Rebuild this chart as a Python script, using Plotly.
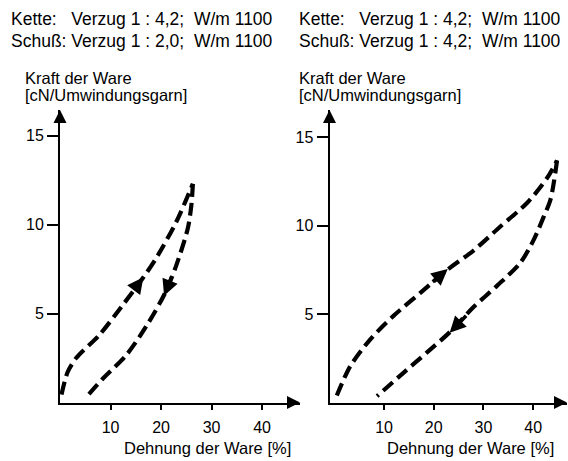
import plotly.graph_objects as go

W, H = 568, 461
FONT = "Liberation Sans, Arial, sans-serif"

# Left panel: Kette 1:4,2 / Schuß 1:2,0
left_load_x = [0.3, 1.5, 3.2, 7.8, 12.2, 16.4, 19.0, 23.0, 26.3]
left_load_y = [0.45, 1.7, 2.5, 3.8, 5.4, 7.0, 8.1, 10.15, 12.3]
left_unload_x = [26.3, 26.0, 25.3, 23.0, 20.7, 17.1, 13.1, 8.5, 5.2]
left_unload_y = [12.3, 11.1, 9.8, 7.7, 6.1, 4.3, 2.66, 1.35, 0.3]

# Right panel: Kette 1:4,2 / Schuß 1:4,2
right_load_x = [0.5, 3.2, 7.2, 11.9, 17.3, 22.7, 28.0, 33.4, 38.8, 42.8, 44.8]
right_load_y = [0.4, 2.05, 3.56, 4.9, 6.2, 7.5, 8.6, 9.96, 11.3, 12.7, 13.7]
right_unload_x = [44.8, 43.5, 42.1, 40.1, 37.4, 32.7, 28.0, 23.3, 18.7, 13.9, 8.6]
right_unload_y = [13.7, 11.5, 10.5, 9.2, 7.9, 6.6, 5.4, 4.0, 2.85, 1.68, 0.36]

# direction arrows on the curves: (tail_x, tail_y, tip_x, tip_y)
left_arrows = [(14.4, 6.25, 16.5, 7.05), (22.2, 7.15, 20.6, 6.0)]
right_arrows = [(19.5, 6.75, 22.8, 7.55), (26.8, 5.0, 23.2, 3.95)]

x_ticks = [10, 20, 30, 40]
y_ticks = [5, 10, 15]

header_left = ["Kette:   Verzug 1 : 4,2;  W/m 1100", "Schuß: Verzug 1 : 2,0;  W/m 1100"]
header_right = ["Kette:   Verzug 1 : 4,2;  W/m 1100", "Schuß: Verzug 1 : 4,2;  W/m 1100"]
y_title = ["Kraft der Ware", "[cN/Umwindungsgarn]"]
x_title = "Dehnung der Ware [%]"

# panel geometry in pixels
L_x0, L_x1 = 60, 300
R_x0, R_x1 = 329.5, 567
Y_top, Y_bot = 110, 402.5

left_xrange = [0, 47.5]
left_yrange = [0, 16.45]
right_xrange = [-0.97, 46.8]
right_yrange = [0, 16.55]


def px(x):
    return x / W


def py(y):
    return 1 - y / H


fig = go.Figure()

line_style = dict(color="black", width=4.2, dash="13px,6px", shape="spline", smoothing=0.8)

for xs, ys, xa, ya in [
    (left_load_x, left_load_y, "x", "y"),
    (left_unload_x, left_unload_y, "x", "y"),
    (right_load_x, right_load_y, "x2", "y2"),
    (right_unload_x, right_unload_y, "x2", "y2"),
]:
    fig.add_trace(go.Scatter(x=xs, y=ys, mode="lines", line=line_style,
                             xaxis=xa, yaxis=ya, showlegend=False, hoverinfo="skip"))

axis_common = dict(showgrid=False, zeroline=False, showline=True, linecolor="black",
                   linewidth=2, ticks="outside", tickcolor="black", tickwidth=1.5,
                   tickfont=dict(family=FONT, size=16, color="black"), fixedrange=True)

fig.update_layout(
    width=W, height=H,
    margin=dict(l=0, r=0, t=0, b=0),
    paper_bgcolor="white", plot_bgcolor="white",
    xaxis=dict(domain=[px(L_x0), px(L_x1)], range=left_xrange, anchor="y",
               tickvals=x_ticks, ticklen=5, ticklabelstandoff=4, **axis_common),
    yaxis=dict(domain=[py(Y_bot), py(Y_top)], range=left_yrange, anchor="x",
               tickvals=y_ticks, ticklen=11, ticklabelstandoff=0, **axis_common),
    xaxis2=dict(domain=[px(R_x0), px(R_x1)], range=right_xrange, anchor="y2",
                tickvals=x_ticks, ticklen=5, ticklabelstandoff=4, **axis_common),
    yaxis2=dict(domain=[py(Y_bot), py(Y_top)], range=right_yrange, anchor="x2",
                tickvals=y_ticks, ticklen=11, ticklabelstandoff=0, **axis_common),
)

annotations = []
text_font = dict(family=FONT, size=16.5, color="black")
head_font = dict(family=FONT, size=17.5, color="black")

# axis arrowheads
for xa, ya, xr, yr in [("x", "y", left_xrange, left_yrange), ("x2", "y2", right_xrange, right_yrange)]:
    annotations.append(dict(x=xr[1], y=0, xref=xa, yref=ya, ax=-14, ay=0,
                            showarrow=True, arrowhead=2, arrowsize=1.3, arrowwidth=2,
                            arrowcolor="black", text=""))
    annotations.append(dict(x=xr[0], y=yr[1], xref=xa, yref=ya, ax=0, ay=14,
                            showarrow=True, arrowhead=2, arrowsize=1.3, arrowwidth=2,
                            arrowcolor="black", text=""))

# direction arrows along the hysteresis loops
for arrows, xa, ya in [(left_arrows, "x", "y"), (right_arrows, "x2", "y2")]:
    for x0, y0, x1, y1 in arrows:
        annotations.append(dict(x=x1, y=y1, ax=x0, ay=y0, xref=xa, yref=ya,
                                axref=xa, ayref=ya, showarrow=True, arrowhead=2,
                                arrowsize=0.9, arrowwidth=3.6, arrowcolor="black", text=""))

# headers
for x0, lines in [(9, header_left), (297, header_right)]:
    for i, t in enumerate(lines):
        annotations.append(dict(x=px(x0), y=py(19 + 22 * i), xref="paper", yref="paper",
                                xanchor="left", yanchor="middle", showarrow=False,
                                text=t, font=head_font))

# y-axis titles
for x0 in [23, 297]:
    for i, t in enumerate(y_title):
        annotations.append(dict(x=px(x0), y=py(77.5 + 17 * i), xref="paper", yref="paper",
                                xanchor="left", yanchor="middle", showarrow=False,
                                text=t, font=text_font))

# x-axis titles
for x0 in [122, 385]:
    annotations.append(dict(x=px(x0), y=py(448), xref="paper", yref="paper",
                            xanchor="left", yanchor="middle", showarrow=False,
                            text=x_title, font=text_font))

fig.update_layout(annotations=annotations)
fig.write_html("out.html")
